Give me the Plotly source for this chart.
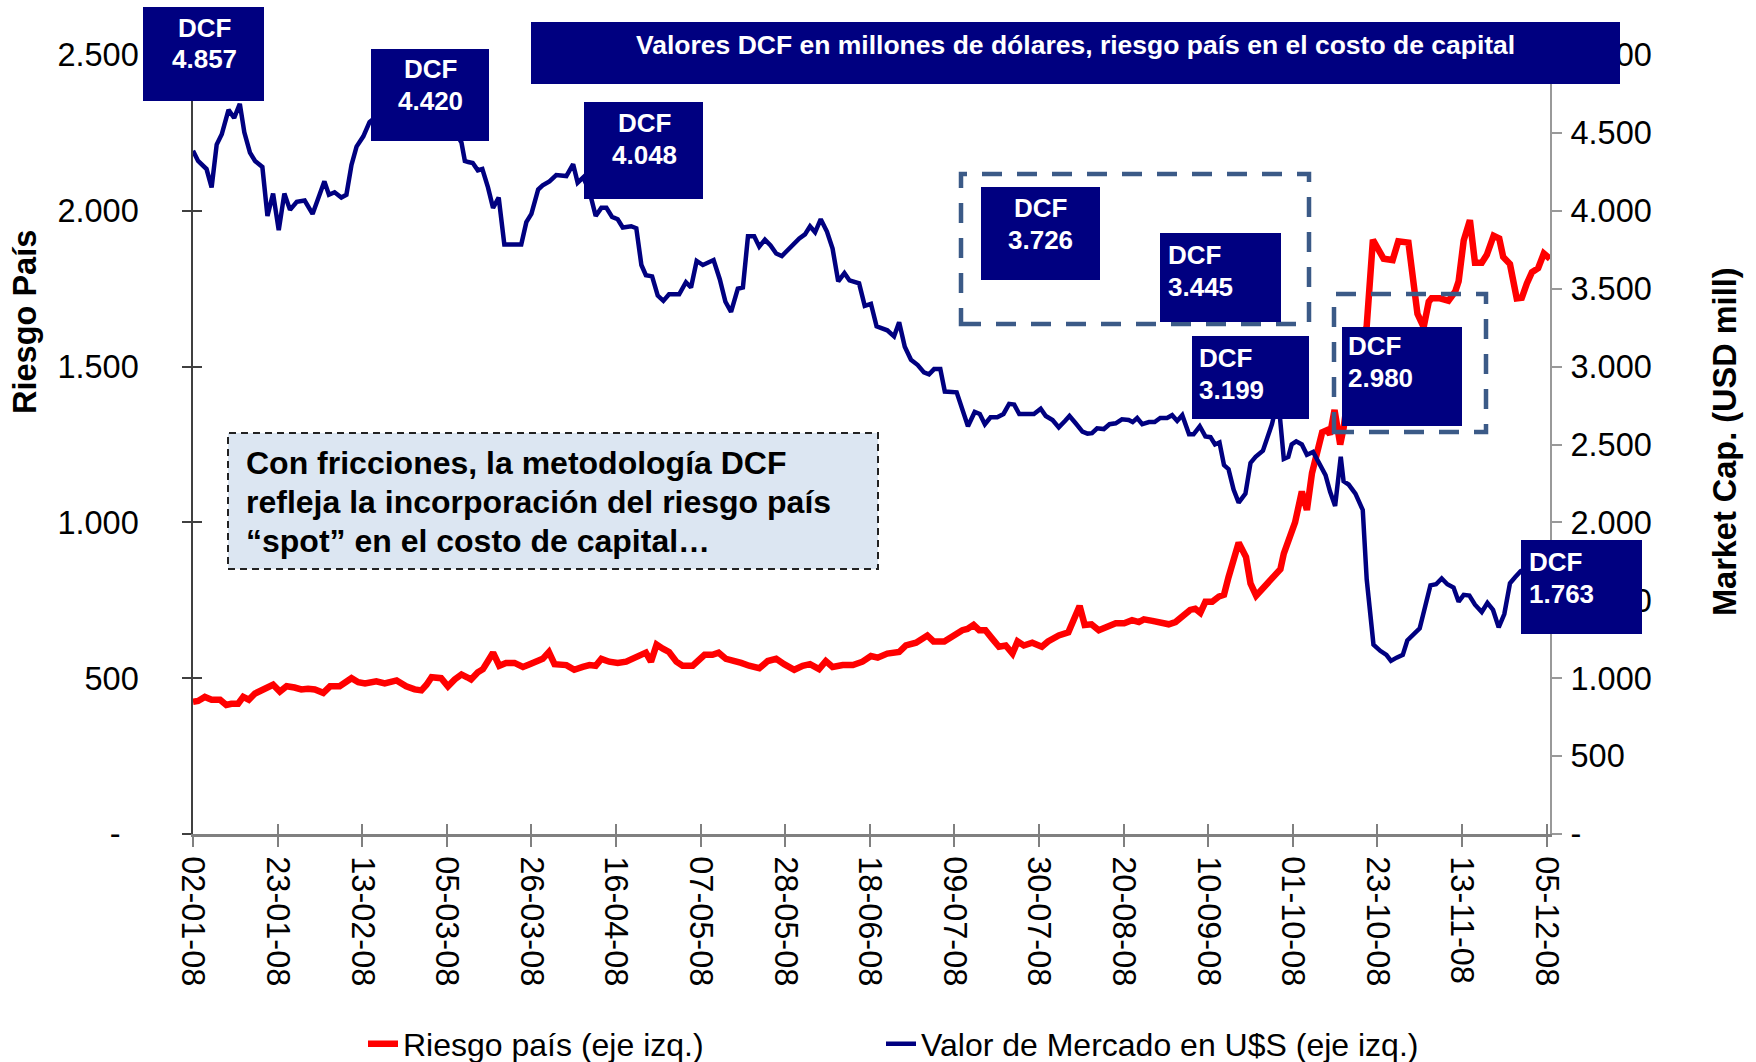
import plotly.graph_objects as go

# ---------------- data ----------------
# x = trading-session index counted from 02-01-08 (ticks every 15 sessions)
tick_pos = [0, 15, 30, 45, 60, 75, 90, 105, 120, 135, 150, 165, 180, 195, 210, 225, 240]
tick_labels = ["02-01-08", "23-01-08", "13-02-08", "05-03-08", "26-03-08", "16-04-08",
               "07-05-08", "28-05-08", "18-06-08", "09-07-08", "30-07-08", "20-08-08",
               "10-09-08", "01-10-08", "23-10-08", "13-11-08", "05-12-08"]

# Valor de mercado (USD mill, right axis)
sesion_valor = [0, 0.9, 2.4, 3.3, 4.2, 5.1, 6.3, 7.3, 8.3, 9.1, 10.1, 11.0, 12.3, 13.2, 14.2,
                15.2, 16.2, 17.2, 18.4, 19.8, 21.2, 22.2, 23.3, 24.1, 25.1, 26.3, 27.2, 28.1,
                29.0, 30.2, 31.3, 33, 35, 37, 39, 41, 43, 45, 46.6, 47.6, 48.2, 48.8, 49.6,
                50.5, 51.3, 52.3, 53.2, 54.2, 55.2, 56.7, 58.2, 59.1, 60.0, 61.2, 62.0, 63.2,
                64.4, 66.2, 67.4, 68.2, 69.2, 70.3, 71.4, 72.4, 73.3, 74.3, 75.3, 76.2, 77.7,
                78.6, 79.5, 80.3, 81.4, 82.4, 83.4, 84.4, 86.2, 87.4, 88.3, 89.3, 90.4, 92.3,
                93.4, 94.4, 95.4, 96.6, 97.5, 98.4, 99.5, 100.4, 101.4, 102.4, 103.4, 104.4,
                105.4, 106.5, 107.5, 108.5, 109.4, 110.3, 111.3, 112.4, 113.4, 114.4, 115.5,
                116.4, 118.1, 119.1, 120.2, 121.2, 123.1, 124.3, 125.2, 126.2, 127.3, 128.5,
                129.6, 130.5, 131.4, 132.5, 133.3, 135.4, 136.4, 137.4, 138.6, 139.5, 140.4,
                141.4, 142.6, 143.7, 144.7, 145.6, 146.5, 147.5, 149.1, 150.3, 151.2, 152.4,
                153.5, 154.6, 155.4, 156.5, 157.7, 158.6, 159.4, 160.3, 161.5, 162.5, 163.6,
                164.7, 165.9, 166.6, 167.4, 168.3, 169.5, 170.5, 171.5, 172.7, 173.6, 174.5,
                175.4, 176.6, 177.4, 178.5, 179.5, 180.4, 181.2, 182.0, 182.8, 183.6, 184.5,
                185.4, 186.6, 187.5, 188.4, 189.7, 190.4, 191.3, 191.9, 192.5, 193.4, 194.2,
                194.8, 195.6, 196.6, 197.5, 198.6, 199.6, 200.8, 201.6, 202.5, 203.5, 204.0,
                204.9, 206.1, 207.4, 208.1, 209.3, 210.5, 211.6, 212.4, 213.4, 214.5, 215.3,
                216.4, 217.5, 218.5, 219.4, 220.4, 221.4, 222.4, 223.5, 224.4, 225.3, 226.3,
                227.3, 228.5, 229.5, 230.5, 231.5, 232.5, 233.5, 234.4, 235.4, 237.5, 239.0,
                240.3]
valor_mercado = [4386, 4320, 4268, 4150, 4425, 4491, 4648, 4596, 4687, 4504, 4373, 4320, 4281,
                 3967, 4111, 3875, 4111, 4006, 4058, 4066, 3980, 4085, 4189, 4103, 4119, 4085,
                 4103, 4294, 4412, 4478, 4569, 4620, 4650, 4600, 4640, 4580, 4620, 4560, 4500,
                 4438, 4320, 4313, 4307, 4260, 4268, 4150, 4019, 4085, 3783, 3783, 3783, 3927,
                 3980, 4137, 4163, 4189, 4229, 4223, 4299, 4181, 4215, 4124, 3967, 4019, 4019,
                 3961, 3946, 3893, 3901, 3888, 3652, 3587, 3579, 3456, 3422, 3464, 3464, 3542,
                 3508, 3678, 3652, 3684, 3561, 3416, 3351, 3500, 3508, 3836, 3836, 3770, 3815,
                 3778, 3726, 3710, 3749, 3791, 3822, 3849, 3901, 3862, 3946, 3867, 3757, 3547,
                 3600, 3553, 3534, 3390, 3403, 3259, 3233, 3194, 3285, 3128, 3044, 3010, 2963,
                 2950, 2984, 2984, 2840, 2835, 2722, 2617, 2709, 2696, 2630, 2675, 2675, 2696,
                 2761, 2756, 2696, 2696, 2696, 2730, 2683, 2657, 2610, 2651, 2683, 2636, 2583,
                 2570, 2573, 2604, 2599, 2630, 2636, 2662, 2657, 2644, 2670, 2630, 2644, 2644,
                 2670, 2670, 2688, 2651, 2688, 2565, 2565, 2617, 2552, 2547, 2500, 2513, 2368,
                 2342, 2211, 2127, 2185, 2382, 2421, 2460, 2526, 2630, 2722, 2760, 2408, 2421,
                 2500, 2520, 2500, 2434, 2452, 2382, 2303, 2198, 2106, 2421, 2264, 2243, 2185,
                 2080, 1635, 1216, 1176, 1150, 1111, 1132, 1150, 1242, 1281, 1320, 1465, 1596,
                 1603, 1640, 1603, 1582, 1491, 1535, 1530, 1472, 1425, 1483, 1438, 1326, 1412,
                 1609, 1648, 1687, 1720, 1745, 1763]

# Riesgo país (pb, left axis)
sesion_riesgo = [0, 0.9, 2.1, 3.3, 4.8, 5.9, 6.8, 8.0, 8.9, 9.9, 11.0, 12.2, 13.0, 14.2, 15.4,
                 16.6, 18.0, 19.2, 20.4, 21.6, 23.1, 24.3, 26.0, 28.1, 29.3, 30.5, 32.5, 34.0,
                 36.1, 37.8, 39.3, 40.5, 41.4, 42.3, 44.0, 45.2, 46.4, 47.6, 48.6, 49.3, 50.5,
                 51.4, 52.3, 53.2, 54.3, 55.5, 57.0, 58.5, 59.7, 61.0, 62.0, 63.1, 64.1, 66.2,
                 67.6, 69.1, 70.3, 71.4, 72.4, 73.8, 75.3, 76.8, 78.0, 79.2, 80.3, 81.2, 82.2,
                 83.3, 84.4, 85.7, 86.8, 88.6, 89.5, 90.7, 92.1, 93.2, 94.5, 96.3, 97.2, 98.6,
                 100.4, 101.9, 103.4, 104.8, 106.6, 108.1, 109.4, 111.0, 112.2, 113.4, 115.2,
                 117.0, 118.7, 120.2, 121.4, 123.1, 125.2, 126.4, 128.2, 130.2, 131.3, 133.2,
                 134.6, 136.4, 137.3, 138.4, 139.4, 140.5, 141.7, 142.9, 144.1, 145.3, 146.2,
                 147.3, 148.8, 150.5, 151.6, 153.5, 155.2, 156.2, 157.2, 158.1, 159.3, 160.6,
                 162.1, 163.6, 165.1, 166.5, 167.7, 168.6, 170.1, 171.8, 173.0, 174.2, 175.4,
                 176.8, 177.7, 178.6, 179.5, 180.7, 181.9, 182.8, 183.6, 185.4, 186.7, 187.5,
                 188.5, 189.5, 190.6, 191.9, 192.8, 193.4, 194.4, 195.4, 196.6, 197.5, 198.4,
                 199.3, 200.2, 201.1, 201.6, 202.4, 202.8, 203.4, 204.0, 204.9, 206.1, 208.1,
                 209.2, 210.2, 211.1, 212.7, 213.7, 215.5, 216.3, 217.1, 218.2, 219.1, 219.6,
                 221.1, 222.6, 223.8, 224.4, 225.3, 226.4, 227.3, 228.5, 229.4, 230.6, 231.6,
                 232.3, 233.5, 234.7, 235.6, 236.5, 237.4, 238.5, 239.5, 240.6]
riesgo_pais = [424, 427, 440, 431, 431, 414, 418, 418, 440, 431, 451, 461, 464, 479, 457, 474,
               470, 464, 466, 464, 453, 474, 474, 500, 487, 483, 490, 483, 493, 474, 464, 461,
               479, 503, 500, 474, 496, 512, 503, 496, 519, 529, 555, 582, 540, 549, 549, 536,
               545, 553, 562, 584, 545, 542, 527, 536, 542, 540, 562, 553, 549, 553, 562, 575,
               582, 553, 608, 595, 584, 553, 540, 540, 555, 575, 575, 582, 562, 555, 549, 540,
               532, 555, 562, 545, 527, 540, 545, 529, 555, 536, 542, 542, 553, 571, 566, 579,
               584, 605, 614, 637, 618, 618, 634, 654, 658, 671, 654, 654, 627, 601, 605, 579,
               618, 605, 614, 601, 618, 637, 647, 686, 732, 671, 673, 654, 663, 676, 676, 686,
               680, 689, 684, 680, 673, 680, 700, 719, 723, 710, 745, 745, 762, 768, 824, 935,
               889, 804, 765, 785, 811, 831, 850, 900, 945, 1000, 1099, 1040, 1158, 1217, 1289,
               1296, 1282, 1361, 1315, 1250, 1302, 1420, 1499, 1630, 1907, 1879, 1846, 1842,
               1902, 1898, 1800, 1669, 1627, 1708, 1719, 1719, 1711, 1741, 1774, 1905, 1970,
               1833, 1833, 1859, 1920, 1911, 1852, 1829, 1719, 1721, 1767, 1803, 1816, 1863,
               1846]

left_ticks = [0, 500, 1000, 1500, 2000, 2500]
left_labels = ["-\u00a0\u00a0", "500", "1.000", "1.500", "2.000", "2.500"]
right_ticks = [0, 500, 1000, 1500, 2000, 2500, 3000, 3500, 4000, 4500, 5000]
right_labels = ["-", "500", "1.000", "1.500", "2.000", "2.500", "3.000", "3.500",
                "4.000", "4.500", "5.000"]

dcf_labels = ["4.857", "4.420", "4.048", "3.726", "3.445", "3.199", "2.980", "1.763"]
comment_lines = ["Con fricciones, la metodología DCF",
                 "refleja la incorporación del riesgo país",
                 "“spot” en el costo de capital…"]

# ---------------- layout helpers (pixel -> paper) ----------------
W, H = 1756, 1062
L, R, T, B = 193, 206, 55, 228
PW, PH = W - L - R, H - T - B


def px(x):
    return (x - L) / PW


def py(y):
    return (H - B - y) / PH


FONT = "Liberation Sans, Arial, sans-serif"
NAVY = "#000080"
RED = "#FF0000"
DASHBLUE = "#3B5A87"
TICKF = 32.5

fig = go.Figure()

# dummy traces for the overlay tick axes (crossing ticks)
fig.add_trace(go.Scatter(x=[], y=[], xaxis="x2", yaxis="y", showlegend=False, hoverinfo="skip"))
fig.add_trace(go.Scatter(x=[], y=[], xaxis="x", yaxis="y3", showlegend=False, hoverinfo="skip"))

fig.add_trace(go.Scatter(x=sesion_valor, y=valor_mercado, yaxis="y2", mode="lines",
                         name="Valor de Mercado en U$S (eje izq.)", legend="legend2",
                         line=dict(color=NAVY, width=4.5)))
fig.add_trace(go.Scatter(x=sesion_riesgo, y=riesgo_pais, yaxis="y", mode="lines",
                         name="Riesgo país (eje izq.)", legend="legend",
                         line=dict(color=RED, width=6.5)))

xr = [0, 240.6]
legend_common = dict(orientation="h", y=py(1044), yanchor="middle", xanchor="left",
                     font=dict(size=32), bgcolor="rgba(0,0,0,0)", itemwidth=30)
fig.update_layout(
    width=W, height=H,
    margin=dict(l=L, r=R, t=T, b=B, autoexpand=False),
    plot_bgcolor="white", paper_bgcolor="white",
    font=dict(family=FONT, size=30, color="black"),
    xaxis=dict(range=xr, tickmode="array", tickvals=tick_pos, ticktext=tick_labels,
               tickangle=90, ticks="outside", ticklen=10, tickwidth=1.5, tickcolor="#808080",
               showline=True, linecolor="#808080", linewidth=2.5, showgrid=False,
               zeroline=False, tickfont=dict(size=TICKF), ticklabelstandoff=3),
    xaxis2=dict(range=xr, overlaying="x", anchor="y", tickmode="array", tickvals=tick_pos,
                ticks="inside", ticklen=10, tickwidth=1.5, tickcolor="#808080",
                showticklabels=False, showline=False, showgrid=False, zeroline=False),
    yaxis=dict(range=[0, 2500], tickmode="array", tickvals=left_ticks, ticktext=left_labels,
               ticks="outside", ticklen=9, tickwidth=1.5, tickcolor="#404040",
               showline=True, linecolor="#404040", linewidth=1.5, showgrid=False,
               zeroline=False, tickfont=dict(size=TICKF), ticklabelstandoff=37),
    yaxis3=dict(range=[0, 2500], overlaying="y", anchor="x", side="left", tickmode="array",
                tickvals=left_ticks, ticks="inside", ticklen=9, tickwidth=1.5,
                tickcolor="#404040", showticklabels=False, showline=False, showgrid=False,
                zeroline=False),
    yaxis2=dict(range=[0, 5000], overlaying="y", side="right", anchor="x", tickmode="array",
                tickvals=right_ticks, ticktext=right_labels, ticks="outside", ticklen=10,
                tickwidth=1.5, tickcolor="#999999", showline=True, linecolor="#999999",
                linewidth=2, showgrid=False, zeroline=False, tickfont=dict(size=TICKF),
                ticklabelstandoff=2),
    legend=dict(x=px(363), **legend_common),
    legend2=dict(x=px(881), **legend_common),
    showlegend=True,
)

shapes = []
annotations = []

# title box
shapes.append(dict(type="rect", xref="paper", yref="paper", x0=px(531), x1=px(1620),
                   y0=py(84), y1=py(22), fillcolor=NAVY, line=dict(width=0), layer="above"))
annotations.append(dict(xref="paper", yref="paper", x=px(1075), y=py(45),
                        text="<b>Valores DCF en millones de dólares, riesgo país en el costo de capital</b>",
                        showarrow=False, font=dict(size=26.5, color="white"),
                        xanchor="center", yanchor="middle"))

# dashed group boxes
shapes.append(dict(type="rect", xref="paper", yref="paper", x0=px(961), x1=px(1309),
                   y0=py(324), y1=py(174), line=dict(color=DASHBLUE, width=4.5, dash="20px,15px"),
                   fillcolor="rgba(0,0,0,0)", layer="above"))
shapes.append(dict(type="rect", xref="paper", yref="paper", x0=px(1334), x1=px(1486),
                   y0=py(432), y1=py(294), line=dict(color=DASHBLUE, width=4.5, dash="20px,15px"),
                   fillcolor="rgba(0,0,0,0)", layer="above"))

# DCF boxes: (x0, y0, x1, y1, text anchor x, "DCF" line y, value line y, align)
dcf_boxes = [
    (143, 7, 264, 101, 204, 28, 59, "center"),
    (371, 49, 489, 141, 430, 69, 101, "center"),
    (584, 102, 703, 199, 644, 123, 155, "center"),
    (981, 187, 1100, 280, 1040, 208, 240, "center"),
    (1160, 233, 1281, 322, 1166, 255, 287, "left"),
    (1192, 336, 1309, 419, 1197, 358, 390, "left"),
    (1342, 327, 1462, 426, 1346, 346, 378, "left"),
    (1521, 540, 1642, 634, 1527, 562, 594, "left"),
]
for (x0, y0, x1, y1, tx, ty1, ty2, al), lab in zip(dcf_boxes, dcf_labels):
    shapes.append(dict(type="rect", xref="paper", yref="paper", x0=px(x0), x1=px(x1),
                       y0=py(y1), y1=py(y0), fillcolor=NAVY, line=dict(width=0), layer="above"))
    for txt, ty in (("DCF", ty1), (lab, ty2)):
        annotations.append(dict(xref="paper", yref="paper", x=px(tx), y=py(ty),
                                text=f"<b>{txt}</b>", showarrow=False,
                                font=dict(size=26, color="white"),
                                xanchor="center" if al == "center" else "left",
                                yanchor="middle"))

# comment box
shapes.append(dict(type="rect", xref="paper", yref="paper", x0=px(228), x1=px(878),
                   y0=py(569), y1=py(433), fillcolor="#DCE6F2",
                   line=dict(color="#222222", width=2, dash="7px,5px"), layer="above"))
for line_txt, ly in zip(comment_lines, [463, 502, 541]):
    annotations.append(dict(xref="paper", yref="paper", x=px(244), y=py(ly),
                            text=f"<b>{line_txt}</b>", showarrow=False, align="left",
                            font=dict(size=32, color="black"),
                            xanchor="left", yanchor="middle"))

# axis titles
annotations.append(dict(xref="paper", yref="paper", x=px(25), y=py(322),
                        text="<b>Riesgo País</b>", showarrow=False, textangle=-90,
                        font=dict(size=32.5, color="black"), xanchor="center", yanchor="middle"))
annotations.append(dict(xref="paper", yref="paper", x=px(1725), y=py(442),
                        text="<b>Market Cap. (USD mill)</b>", showarrow=False, textangle=-90,
                        font=dict(size=32.5, color="black"), xanchor="center", yanchor="middle"))

fig.update_layout(shapes=shapes, annotations=annotations)

fig.write_html("out.html", config={"displayModeBar": False},
               post_script="document.body.style.margin='0';")
